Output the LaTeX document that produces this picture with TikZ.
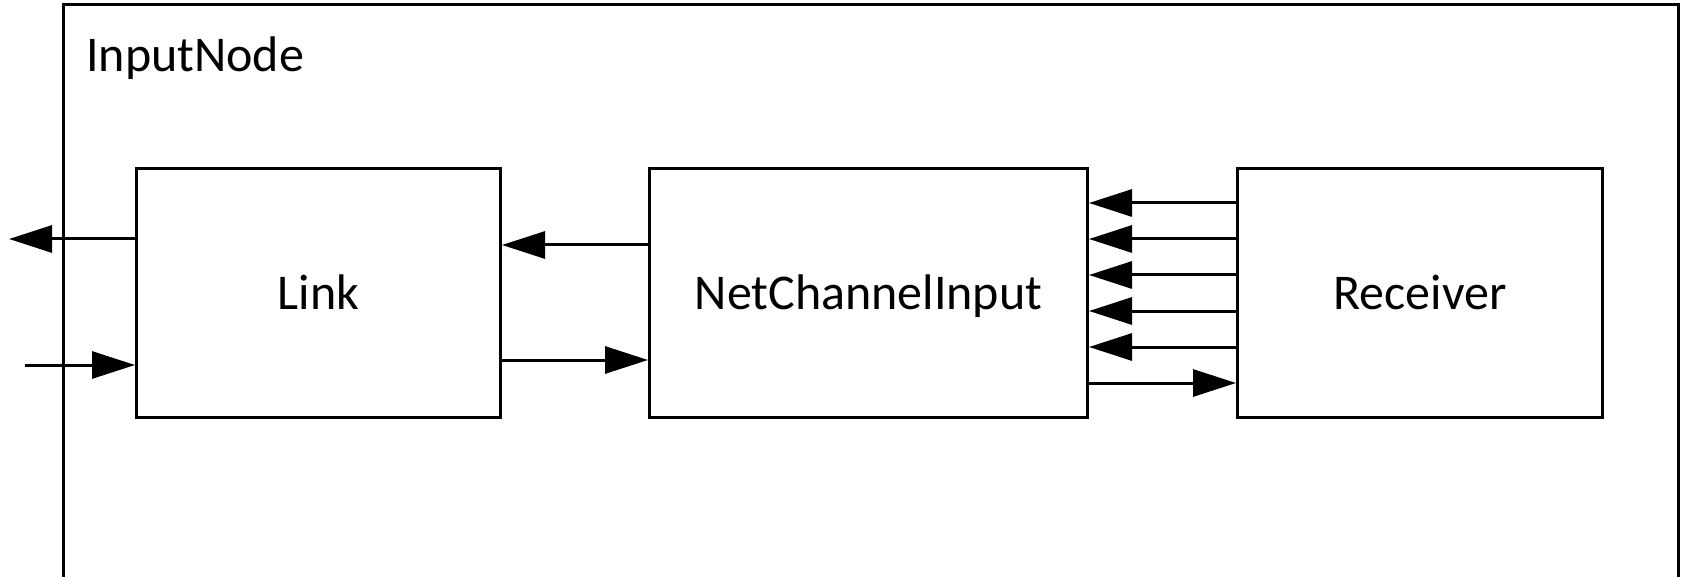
\documentclass[tikz,border=0pt]{standalone}
\usepackage{fontspec}
\setmainfont{Carlito}
\usetikzlibrary{positioning,arrows.meta}

\begin{document}
\begin{tikzpicture}[x=1pt, y=-1pt,
		block/.style = {draw, line width=3pt, minimum height=249pt, inner sep=0pt, text height=32pt, text depth=0pt, font=\fontsize{50}{60}\selectfont},
		title/.style = {anchor=base west, inner sep=0pt, font=\fontsize{50}{60}\selectfont},
		flow/.style  = {-{Triangle[length=43pt, width=27pt]}, line width=3pt},
		frame/.style = {line width=3pt}]
		
		\useasboundingbox (0,0) rectangle (1683,577);
		
		% outer frame, open at the bottom
		\draw[frame] (63,600) -- (63,5) -- (1678,5) -- (1678,600);
		\node[title] (inputnode) at (86,72) {InputNode};
		
		% the three blocks, relatively positioned
		\node[block, minimum width=364pt] (link) at (318.5,293) {Link};
		\node[block, minimum width=438pt, right=146pt of link] (nci) {NetChannelInput};
		\node[block, minimum width=365pt, right=147pt of nci] (rcv) {Receiver};
		
		% free ends outside the frame
		\coordinate (outL) at (9,239);
		\coordinate (inL) at (25,365);
		
		% lines between link and the outside
		\draw[flow] ([yshift=54pt]link.west) -- (outL);
		\draw[flow] (inL) -- ([yshift=-72pt]link.west);
		
		% lines between link and nci
		\draw[flow] ([yshift=48pt]nci.west) -- ([yshift=48pt]link.east);
		\draw[flow] ([yshift=-67pt]link.east) -- ([yshift=-67pt]nci.west);
		
		% lines between nci and the receiver
		\foreach \dy in {90,54,18,-18,-54}
		\draw[flow] ([yshift=\dy pt]rcv.west) -- ([yshift=\dy pt]nci.east);
		
		\draw[flow] ([yshift=-90pt]nci.east) -- ([yshift=-90pt]rcv.west);
	\end{tikzpicture}
\end{document}
